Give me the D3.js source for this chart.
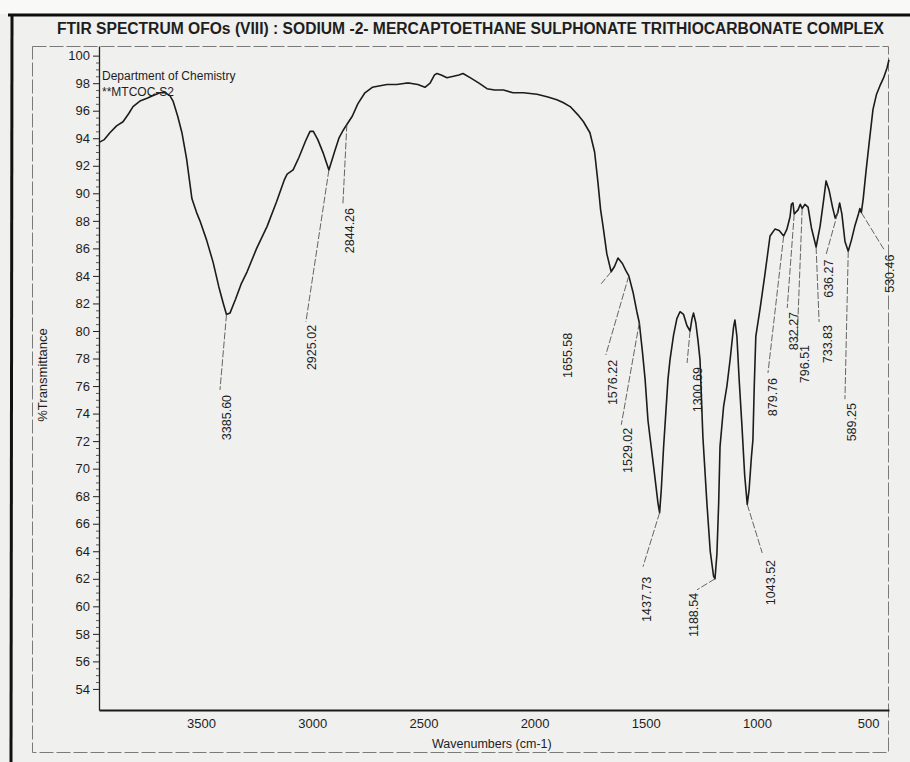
<!DOCTYPE html>
<html>
<head>
<meta charset="utf-8"/>
<title>FTIR spectrum</title>
<script src="https://d3js.org/d3.v7.min.js"></script>
<style>
  body { margin: 0; background: #f0f0ee; }
  svg { display: block; }
  text { font-family: "Liberation Sans", Arial, sans-serif; fill: #1e1e1e; }
</style>
</head>
<body>
<svg width="910" height="762"></svg>
<script>
// spectrum (cm-1, %T)
var wavenumbers = [3959, 3935, 3910, 3880, 3851, 3825, 3806, 3775, 3743, 3715, 3685, 3660, 3640, 3626, 3605,
  3586, 3565, 3541, 3520, 3505, 3475, 3446, 3420, 3400, 3385.60, 3370, 3345, 3320, 3293, 3250, 3203, 3160,
  3125, 3113, 3086, 3060, 3030, 3010, 2995, 2975, 2950, 2925.02, 2900, 2880, 2860, 2844.26, 2820, 2795,
  2763, 2730, 2700, 2664, 2620, 2580, 2560, 2525, 2493, 2470, 2450, 2439, 2420, 2394, 2365, 2340, 2322,
  2290, 2250, 2214, 2180, 2140, 2097, 2050, 1989, 1940, 1900, 1872, 1840, 1805, 1780, 1751, 1730, 1715,
  1703, 1692, 1675, 1655.58, 1640, 1625, 1605, 1590, 1576.22, 1557, 1540, 1529.02, 1515, 1503, 1490, 1481,
  1462, 1445, 1437.73, 1430, 1420, 1410, 1400, 1391, 1375, 1360, 1346, 1330, 1315, 1300.69, 1292, 1285,
  1275, 1265, 1256, 1243, 1225, 1210, 1195, 1188.54, 1180, 1172, 1166, 1150, 1135, 1120, 1105, 1099, 1090,
  1080, 1067, 1055, 1043.52, 1035, 1025, 1018, 1012, 1005, 986, 965, 941, 919, 900, 879.76, 865, 851, 845,
  838, 832.27, 815, 805, 796.51, 784, 770, 755, 733.83, 716, 700, 689, 675, 660, 648, 636.27, 628, 618,
  604, 589.25, 575, 560, 545, 537, 530.46, 522, 510, 495, 478, 462, 447, 430, 415, 406];
var transmittance = [93.7, 93.9, 94.4, 94.9, 95.2, 95.8, 96.3, 96.7, 96.9, 97.1, 97.3, 97.3, 97.1, 96.7, 95.6,
  94.4, 92.5, 89.6, 88.6, 88.0, 86.6, 85.0, 83.2, 82.0, 81.2, 81.3, 82.3, 83.4, 84.3, 86.0, 87.6, 89.4,
  91.0, 91.4, 91.7, 92.6, 93.8, 94.5, 94.5, 93.9, 92.9, 91.7, 93.0, 94.0, 94.6, 95.0, 95.6, 96.5,
  97.3, 97.7, 97.8, 97.9, 97.9, 98.0, 98.0, 97.9, 97.7, 98.0, 98.6, 98.7, 98.6, 98.4, 98.5, 98.6, 98.7,
  98.4, 98.0, 97.6, 97.5, 97.5, 97.3, 97.3, 97.2, 97.0, 96.8, 96.6, 96.3, 95.7, 95.2, 94.4, 93.0, 90.8,
  88.8, 87.6, 85.6, 84.3, 84.7, 85.3, 84.9, 84.4, 84.0, 82.8, 81.4, 80.6, 78.5, 76.5, 73.5, 72.3,
  69.8, 67.5, 66.8, 68.5, 71.5, 74.0, 76.5, 77.9, 79.7, 80.9, 81.4, 81.2, 80.4, 80.0, 80.9, 81.3,
  80.6, 79.3, 77.9, 72.3, 67.5, 64.0, 62.2, 62.0, 63.8, 67.5, 71.6, 74.5, 76.0, 78.0, 80.3, 80.8, 79.6,
  76.5, 73.0, 69.5, 67.4, 68.5, 70.8, 72.1, 76.0, 79.6, 81.6, 84.0, 86.9, 87.4, 87.3, 86.9, 87.4, 88.3, 89.2,
  89.3, 88.5, 88.8, 89.2, 88.9, 89.2, 89.0, 87.5, 86.1, 87.6, 89.5, 90.9, 90.2, 89.0, 88.2, 88.6, 89.3, 88.5,
  86.5, 85.8, 86.6, 87.6, 88.4, 88.9, 88.6, 89.6, 91.5, 93.7, 96.1, 97.2, 97.8, 98.4, 99.1, 99.7];

// marked peaks
var peaks = [3385.60, 2925.02, 2844.26, 1655.58, 1576.22, 1529.02, 1437.73, 1300.69, 1188.54, 1043.52,
  879.76, 832.27, 796.51, 733.83, 636.27, 589.25, 530.46];

var yTicks = d3.range(54, 101, 2);
var xTicks = [3500, 3000, 2500, 2000, 1500, 1000, 500];

var titleText = "FTIR SPECTRUM OFOs (VIII) :  SODIUM -2- MERCAPTOETHANE SULPHONATE TRITHIOCARBONATE COMPLEX";

// where each peak label sits, offset from its peak: leader end [dx,dy], text centre/top [tx,ty]
var labelLayout = [
  [-6.5, 75.5, 0.5, 80.5], [-23, 152, -17, 155], [-4, 80.5, 3, 83.5], [-10, 12, -44, 61],
  [-23, 79, -16, 84], [-18, 102, -12, 105], [-16.6, 54, -12.6, 64], [-3, 32, 7, 36],
  [-18, 11, -22, 14], [15, 48.5, 23, 55.5], [-15.7, 137, -10.7, 142], [-7, 94, -1, 98],
  [-5, 131.5, 2, 136.5], [3, 75, 11, 78], [-12, 43, -9, 47], [-3.3, 148, 3.7, 152], [22.7, 37, 27.7, 42]
];

var svg = d3.select("svg");

// paper
svg.append("rect").attr("width", 910).attr("height", 14).attr("fill", "#f9f9f8");
svg.append("line").attr("x1", 8).attr("x2", 910).attr("y1", 15).attr("y2", 15)
  .attr("stroke", "#0c0c0c").attr("stroke-width", 3);
svg.append("line").attr("x1", 12).attr("x2", 11).attr("y1", 15).attr("y2", 762)
  .attr("stroke", "#111").attr("stroke-width", 3);

// outer box of the print
svg.append("rect").attr("x", 32.5).attr("y", 46.5).attr("width", 856).attr("height", 706)
  .attr("fill", "none").attr("stroke", "#7a7a7a").attr("stroke-width", 1).attr("stroke-dasharray", "14,3");

var x = d3.scaleLinear().domain([3959, 406]).range([99, 889]);
var y = d3.scaleLinear().domain([52.47, 100.7]).range([710, 46]);

// title
svg.append("text").attr("x", 57).attr("y", 34)
  .attr("textLength", 827).attr("lengthAdjust", "spacingAndGlyphs")
  .style("font-size", "16px").style("font-weight", "bold")
  .text(titleText);

// y axis
var yAxis = svg.append("g").attr("transform", "translate(99,0)")
  .call(d3.axisLeft(y).tickValues(yTicks).tickSize(6).tickSizeOuter(0).tickPadding(3).tickFormat(d3.format("d")));
yAxis.select(".domain").attr("stroke", "#222").attr("stroke-width", 1.3);
yAxis.selectAll(".tick line").attr("stroke", "#222");
yAxis.selectAll("text").style("font-size", "13px").attr("fill", "#1e1e1e");

svg.append("g").attr("transform", "translate(99,0)")
  .call(d3.axisLeft(y).tickValues(d3.range(54, 100.5, 0.5).filter(function(v){ return v % 2 != 0; }))
    .tickSize(3).tickSizeOuter(0).tickFormat(""))
  .call(function(g){ g.select(".domain").remove(); })
  .selectAll("line").attr("stroke", "#333").attr("stroke-width", 0.8);

// x axis
var xAxis = svg.append("g").attr("transform", "translate(0,710)")
  .call(d3.axisBottom(x).tickValues(xTicks).tickSize(0).tickPadding(9).tickFormat(d3.format("d")));
xAxis.select(".domain").attr("stroke", "#1a1a1a").attr("stroke-width", 1.8);
xAxis.selectAll("text").style("font-size", "13px").attr("fill", "#1e1e1e");

svg.append("text").attr("x", 432).attr("y", 748)
  .style("font-size", "12.5px").text("Wavenumbers (cm-1)");

svg.append("text").attr("transform", "translate(47,375) rotate(-90)")
  .attr("text-anchor", "middle").style("font-size", "13px").text("%Transmittance");

svg.append("text").attr("x", 102).attr("y", 80).style("font-size", "12px").text("Department of Chemistry");
svg.append("text").attr("x", 102).attr("y", 96).style("font-size", "12px").text("**MTCOC-S2");

// spectrum
var pts = wavenumbers.map(function(w, i){ return [w, transmittance[i]]; });
var line = d3.line().x(function(d){ return x(d[0]); }).y(function(d){ return y(d[1]); });
svg.append("path").datum(pts).attr("d", line)
  .attr("fill", "none").attr("stroke", "#1c1c1c").attr("stroke-width", 1.6).attr("stroke-linejoin", "round");

// peak labels with leaders
var ann = svg.append("g");
peaks.forEach(function(w, i){
  var t = transmittance[wavenumbers.indexOf(w)];
  var px = x(w), py = y(t), L = labelLayout[i];
  ann.append("line")
    .attr("x1", px).attr("y1", py).attr("x2", px + L[0]).attr("y2", py + L[1])
    .attr("stroke", "#555").attr("stroke-width", 0.9).attr("stroke-dasharray", "7,2");
  ann.append("text")
    .attr("transform", "translate(" + (px + L[2]) + "," + (py + L[3]) + ") rotate(-90)")
    .attr("text-anchor", "end").attr("dy", "0.36em")
    .style("font-size", "12.5px")
    .text(w.toFixed(2));
});
</script>
</body>
</html>
